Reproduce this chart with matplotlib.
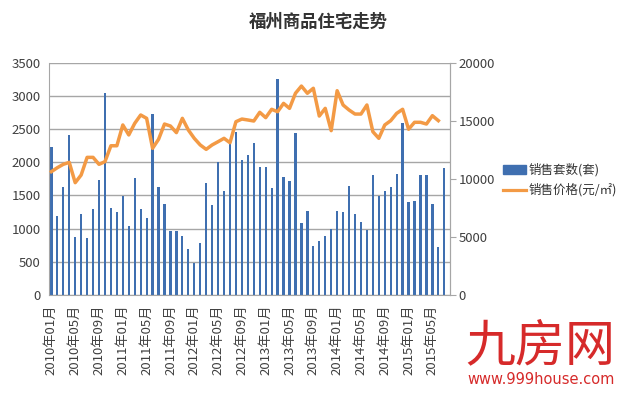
#!/usr/bin/env python3

import matplotlib
matplotlib.use("Agg")
from matplotlib import pyplot as plt
from matplotlib.patches import Patch
from matplotlib.lines import Line2D

plt.rcParams['font.family'] = ['Noto Sans CJK SC', 'DejaVu Sans']

years = [2010, 2011, 2012, 2013, 2014, 2015]
months = [f"{y}年{m:02d}月" for y in years for m in range(1, 13)][:67]

# 销售套数, 2010-01 .. 2015-07
sales_count = [2230, 1190, 1630, 2415, 880, 1220, 860, 1300, 1730, 3040,
               1315, 1255, 1490, 1040, 1760, 1300, 1155, 2725, 1630, 1370,
               960, 970, 890, 695, 480, 780, 1680, 1355, 2000, 1565,
               2280, 2455, 2035, 2110, 2285, 1935, 1935, 1615, 3260, 1780,
               1715, 2435, 1090, 1270, 745, 815, 890, 1000, 1270, 1255,
               1645, 1220, 1105, 980, 1810, 1490, 1565, 1630, 1825, 2585,
               1400, 1415, 1810, 1810, 1370, 730, 1910]

# 销售价格, last month has no price
sales_price = [10620, 10960, 11250, 11420, 9670, 10330, 11850, 11850, 11250, 11480,
               12850, 12850, 14640, 13780, 14780, 15500, 15210, 12630, 13400, 14720,
               14550, 13980, 15210, 14210, 13490, 12920, 12540, 12920, 13200, 13490,
               13110, 14920, 15150, 15070, 14980, 15730, 15270, 15990, 15780, 16500,
               16070, 17370, 17990, 17370, 17800, 15410, 16070, 14150, 17590, 16360,
               15930, 15580, 15580, 16360, 14060, 13490, 14640, 15010, 15640, 15990,
               14270, 14870, 14870, 14720, 15440, 15010]

BLUE = "#3F6FB0"
ORANGE = "#F39A45"
GRID = "#A6A6A6"

fig = plt.figure(figsize=(6.25, 3.97), dpi=100)
ax = fig.add_axes([0.0784, 0.257, 0.642, 0.585])
ax2 = ax.twinx()

x = list(range(len(sales_count)))
ax.bar(x, sales_count, width=0.38, color=BLUE, zorder=2)
ax2.plot(list(range(len(sales_price))), sales_price, color=ORANGE, lw=2.5,
         solid_joinstyle="round", zorder=3)

ax.set_xlim(-0.4, 67.0)
ax.set_ylim(0, 3500)
ax.set_yticks(range(0, 3501, 500))
ax2.set_ylim(0, 20000)
ax2.set_yticks(range(0, 20001, 5000))
ax.yaxis.grid(True, color=GRID, lw=1.0, zorder=0)
ax.set_axisbelow(True)

ax.set_xticks(x[::4])
ax.set_xticklabels(months[::4], rotation=90, fontsize=9.5, color="#404040")
ax.tick_params(axis="x", length=0, pad=7)
ax.tick_params(axis="y", length=0, labelsize=9.5, labelcolor="#404040", pad=6)
ax2.tick_params(axis="y", length=4, color=GRID, labelsize=9.5, labelcolor="#404040", pad=2)

for a in (ax, ax2):
    for s in a.spines.values():
        s.set_color(GRID)
    a.spines["top"].set_visible(False)
ax2.spines["left"].set_visible(False)
ax2.spines["bottom"].set_visible(False)

fig.text(0.509, 0.945, "福州商品住宅走势", ha="center", va="center",
         fontsize=12.5, fontweight="bold", color="#333333")

handles = [Patch(color=BLUE), Line2D([0], [0], color=ORANGE, lw=2.3)]
fig.legend(handles, ["销售套数(套)", "销售价格(元/㎡)"], loc="upper left",
           bbox_to_anchor=(0.795, 0.605), frameon=False, fontsize=9,
           handlelength=1.8, handletextpad=0.2, labelspacing=0.55,
           borderpad=0, labelcolor="#333333")

# watermark
fig.text(0.865, 0.127, "九房网", ha="center", va="center", fontsize=36,
         color="#D62A2A")
fig.text(0.865, 0.043, "www.999house.com", ha="center", va="center",
         fontsize=10.5, color="#D62A2A", family=["DejaVu Sans"])

fig.savefig("out.png", dpi=100)
